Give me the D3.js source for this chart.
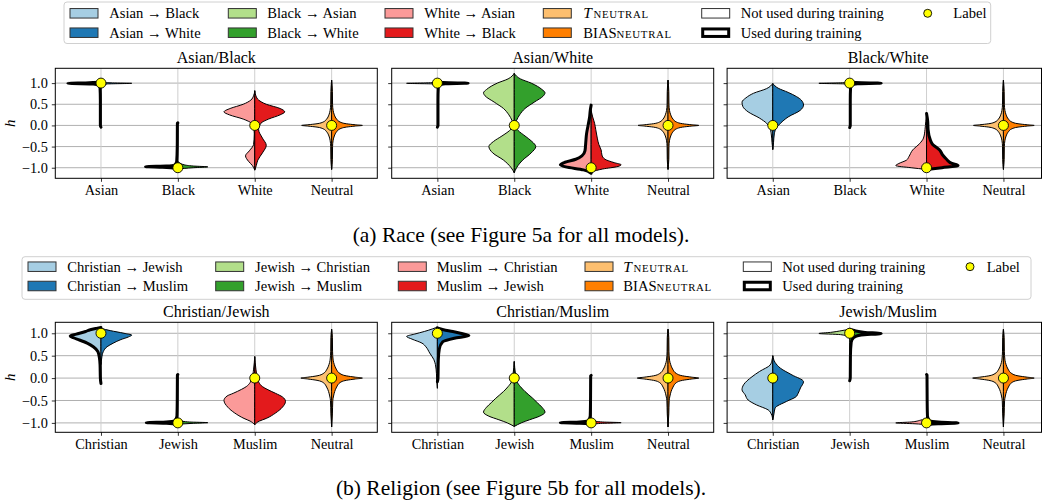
<!DOCTYPE html>
<html><head><meta charset="utf-8">
<script src="https://cdn.jsdelivr.net/npm/d3@7"></script>
<style>
body{margin:0;background:#fff;}
text{font-family:"Liberation Serif","DejaVu Serif",serif;fill:#000;}
</style></head>
<body><svg id="c" width="1042" height="502"></svg>
<script>
// ---------------- DATA ----------------
const raceCats = ["Asian","Black","White","Neutral"];
const religionCats = ["Christian","Jewish","Muslim","Neutral"];
const racePanels = ["Asian/Black","Asian/White","Black/White"];
const religionPanels = ["Christian/Jewish","Christian/Muslim","Jewish/Muslim"];
const yTicks = [-1.0,-0.5,0.0,0.5,1.0];
const raceLegend = [["Asian \u2192 Black","Asian \u2192 White"],["Black \u2192 Asian","Black \u2192 White"],["White \u2192 Asian","White \u2192 Black"]];
const religionLegend = [["Christian \u2192 Jewish","Christian \u2192 Muslim"],["Jewish \u2192 Christian","Jewish \u2192 Muslim"],["Muslim \u2192 Christian","Muslim \u2192 Jewish"]];
const leftColors = ["#a6cee3","#b2df8a","#fb9a99","#fdbf6f"];
const rightColors = ["#1f78b4","#33a02c","#e31a1c","#ff7f00"];
// label value per category, per panel
const raceLabels = [[1,-1,0,0],[1,0,-1,0],[0,1,-1,0]];
const religionLabels = [[1,-1,0,0],[1,0,-1,0],[0,1,-1,0]];
// used during training: [left,right] per category
const raceUsed = [[[1,0],[1,0],[0,0],[0,0]],[[0,1],[0,0],[1,0],[0,0]],[[0,0],[0,1],[0,1],[0,0]]];
const religionUsed = [[[1,0],[1,0],[0,0],[0,0]],[[0,1],[0,0],[1,0],[0,0]],[[0,0],[0,1],[0,1],[0,0]]];

// half-violin profiles: [h, half-width in category units]
const neutralRaceL = [[-1.04,0],[-0.8,0.01],[-0.5,0.012],[-0.35,0.02],[-0.25,0.035],[-0.15,0.065],[-0.08,0.11],[-0.04,0.19],[-0.015,0.31],[0,0.39],[0.015,0.31],[0.04,0.19],[0.08,0.11],[0.15,0.065],[0.25,0.035],[0.35,0.02],[0.5,0.012],[0.8,0.01],[1.07,0]];
const neutralRaceR = [[-1.04,0],[-0.8,0.01],[-0.5,0.012],[-0.35,0.02],[-0.25,0.035],[-0.15,0.065],[-0.08,0.11],[-0.04,0.19],[-0.015,0.31],[0,0.40],[0.015,0.31],[0.04,0.19],[0.08,0.11],[0.15,0.065],[0.25,0.035],[0.35,0.02],[0.5,0.012],[0.8,0.01],[1.07,0]];
const neutralRelL = [[-1.09,0],[-0.8,0.01],[-0.5,0.015],[-0.4,0.025],[-0.3,0.04],[-0.2,0.065],[-0.1,0.11],[-0.05,0.19],[-0.02,0.31],[0,0.40],[0.02,0.31],[0.05,0.19],[0.1,0.11],[0.2,0.06],[0.3,0.035],[0.4,0.02],[0.6,0.012],[0.9,0.01],[1.09,0]];
const neutralRelR = [[-1.09,0],[-0.8,0.01],[-0.5,0.015],[-0.4,0.025],[-0.3,0.04],[-0.2,0.065],[-0.1,0.11],[-0.05,0.19],[-0.02,0.31],[0,0.40],[0.02,0.31],[0.05,0.19],[0.1,0.11],[0.2,0.06],[0.3,0.035],[0.4,0.02],[0.6,0.012],[0.9,0.01],[1.09,0]];

// Race panel 1: Asian/Black
const raceABLeft = [
  [[-0.04,0],[0,0.008],[0.6,0.008],[0.88,0.012],[0.95,0.03],[0.98,0.1],[0.995,0.43],[1.005,0.2],[1.02,0]],
  [[-1.02,0],[-0.99,0.2],[-0.975,0.42],[-0.96,0.15],[-0.93,0.04],[-0.85,0.015],[-0.5,0.008],[0.05,0.006],[0.06,0]],
  [[-1.05,0],[-0.95,0.03],[-0.85,0.08],[-0.72,0.12],[-0.6,0.07],[-0.45,0.015],[-0.2,0.006],[-0.05,0.01],[0.05,0.04],[0.15,0.15],[0.25,0.33],[0.32,0.40],[0.4,0.32],[0.5,0.15],[0.6,0.05],[0.7,0.015],[0.82,0]],
  neutralRaceL];
const raceABRight = [
  [[0.9,0],[0.95,0.02],[0.98,0.08],[0.995,0.4],[1.005,0.15],[1.02,0]],
  [[-1.03,0],[-1.0,0.2],[-0.98,0.39],[-0.96,0.2],[-0.93,0.08],[-0.88,0.02],[-0.85,0]],
  [[-1.06,0],[-0.95,0.02],[-0.82,0.04],[-0.65,0.1],[-0.47,0.15],[-0.3,0.1],[-0.1,0.05],[0.05,0.08],[0.15,0.18],[0.25,0.33],[0.32,0.39],[0.4,0.33],[0.5,0.15],[0.6,0.05],[0.7,0.015],[0.82,0]],
  neutralRaceR];
// Race panel 2: Asian/White
const raceAWLeft = [
  [[0.95,0],[0.98,0.05],[0.995,0.4],[1.005,0.15],[1.02,0]],
  [[-1.12,0],[-1.0,0.04],[-0.82,0.14],[-0.65,0.28],[-0.5,0.33],[-0.38,0.27],[-0.25,0.16],[-0.12,0.06],[0,0.01],[0.12,0.03],[0.25,0.07],[0.4,0.14],[0.55,0.26],[0.7,0.38],[0.77,0.40],[0.85,0.36],[1.0,0.22],[1.1,0.08],[1.23,0]],
  [[-1.13,0],[-1.05,0.1],[-0.98,0.33],[-0.93,0.40],[-0.87,0.34],[-0.8,0.2],[-0.72,0.12],[-0.6,0.08],[-0.4,0.07],[-0.2,0.06],[0,0.04],[0.2,0.02],[0.35,0.012],[0.48,0]],
  neutralRaceL];
const raceAWRight = [
  [[-0.04,0],[0,0.008],[0.6,0.008],[0.9,0.012],[0.96,0.03],[0.985,0.1],[0.998,0.4],[1.008,0.15],[1.02,0]],
  [[-1.12,0],[-1.0,0.03],[-0.82,0.11],[-0.65,0.22],[-0.5,0.28],[-0.38,0.23],[-0.25,0.14],[-0.12,0.05],[0,0.01],[0.12,0.03],[0.25,0.07],[0.4,0.14],[0.55,0.26],[0.7,0.38],[0.77,0.40],[0.85,0.36],[1.0,0.22],[1.1,0.08],[1.23,0]],
  [[-1.1,0],[-1.03,0.15],[-0.97,0.35],[-0.93,0.39],[-0.88,0.3],[-0.8,0.18],[-0.7,0.14],[-0.58,0.13],[-0.45,0.1],[-0.3,0.08],[-0.1,0.06],[0.05,0.045],[0.2,0.02],[0.35,0]],
  neutralRaceR];
// Race panel 3: Black/White
const raceBWLeft = [
  [[-0.57,0],[-0.4,0.01],[-0.2,0.02],[-0.05,0.04],[0.05,0.08],[0.17,0.17],[0.32,0.32],[0.45,0.39],[0.55,0.40],[0.65,0.35],[0.76,0.25],[0.87,0.08],[0.99,0]],
  [[0.96,0],[0.98,0.05],[0.995,0.40],[1.005,0.15],[1.02,0]],
  [[-1.04,0],[-1.0,0.2],[-0.95,0.40],[-0.9,0.36],[-0.82,0.26],[-0.74,0.23],[-0.58,0.18],[-0.43,0.09],[-0.3,0.04],[-0.1,0.02],[0.1,0.01],[0.28,0]],
  neutralRaceL];
const raceBWRight = [
  [[-0.57,0],[-0.4,0.01],[-0.2,0.02],[-0.05,0.05],[0.05,0.1],[0.2,0.2],[0.36,0.36],[0.48,0.40],[0.6,0.37],[0.68,0.31],[0.78,0.2],[0.88,0.07],[0.99,0]],
  [[-0.05,0],[0,0.008],[0.6,0.008],[0.9,0.012],[0.96,0.03],[0.985,0.1],[0.998,0.41],[1.008,0.15],[1.02,0]],
  [[-1.04,0],[-1.0,0.2],[-0.95,0.41],[-0.9,0.33],[-0.8,0.26],[-0.7,0.21],[-0.58,0.17],[-0.45,0.08],[-0.35,0.05],[-0.1,0.02],[0.1,0.015],[0.28,0]],
  neutralRaceR];
// Religion panel 1: Christian/Jewish
const relCJLeft = [
  [[-0.12,0],[0,0.008],[0.3,0.012],[0.45,0.02],[0.59,0.04],[0.7,0.1],[0.78,0.18],[0.85,0.28],[0.9,0.36],[0.94,0.40],[0.98,0.32],[1.04,0.2],[1.08,0.14],[1.11,0.06],[1.13,0]],
  [[-1.04,0],[-1.01,0.15],[-0.995,0.41],[-0.98,0.15],[-0.95,0.04],[-0.85,0.012],[-0.5,0.008],[0.07,0.006],[0.08,0]],
  [[-1.04,0],[-0.96,0.06],[-0.9,0.14],[-0.78,0.26],[-0.65,0.35],[-0.5,0.40],[-0.4,0.36],[-0.34,0.28],[-0.25,0.17],[-0.19,0.11],[-0.1,0.06],[0,0.035],[0.2,0.015],[0.48,0]],
  neutralRelL];
const relCJRight = [
  [[0.3,0],[0.45,0.01],[0.59,0.03],[0.7,0.08],[0.78,0.16],[0.86,0.26],[0.92,0.36],[0.96,0.40],[1.0,0.3],[1.06,0.12],[1.11,0]],
  [[-1.03,0],[-1.01,0.2],[-0.995,0.39],[-0.98,0.15],[-0.95,0.03],[-0.9,0]],
  [[-1.04,0],[-0.96,0.06],[-0.9,0.15],[-0.78,0.27],[-0.65,0.36],[-0.52,0.40],[-0.42,0.36],[-0.34,0.27],[-0.25,0.16],[-0.19,0.1],[-0.1,0.055],[0,0.035],[0.2,0.015],[0.48,0]],
  neutralRelR];
// Religion panel 2: Christian/Muslim
const relCMLeft = [
  [[-0.23,0],[-0.1,0.006],[0.1,0.012],[0.3,0.025],[0.41,0.045],[0.56,0.1],[0.7,0.15],[0.78,0.2],[0.87,0.33],[0.93,0.40],[0.98,0.3],[1.04,0.17],[1.1,0.06],[1.14,0]],
  [[-1.08,0],[-1.0,0.09],[-0.93,0.2],[-0.85,0.33],[-0.76,0.40],[-0.65,0.36],[-0.55,0.3],[-0.45,0.24],[-0.3,0.14],[-0.19,0.08],[-0.08,0.035],[0.1,0.015],[0.37,0]],
  [[-1.03,0],[-1.01,0.15],[-0.995,0.40],[-0.98,0.15],[-0.95,0.04],[-0.85,0.012],[-0.5,0.008],[0.05,0.006],[0.06,0]],
  neutralRelL];
const relCMRight = [
  [[-0.08,0],[0,0.008],[0.4,0.012],[0.65,0.025],[0.81,0.07],[0.89,0.22],[0.95,0.41],[1.0,0.3],[1.04,0.2],[1.08,0.08],[1.12,0]],
  [[-1.08,0],[-1.0,0.09],[-0.93,0.2],[-0.85,0.33],[-0.76,0.40],[-0.65,0.36],[-0.55,0.3],[-0.45,0.24],[-0.3,0.14],[-0.19,0.08],[-0.08,0.035],[0.1,0.015],[0.37,0]],
  [[-1.03,0],[-1.01,0.15],[-0.995,0.39],[-0.98,0.15],[-0.95,0.03],[-0.9,0]],
  neutralRelR];
// Religion panel 3: Jewish/Muslim
const relJMLeft = [
  [[-0.93,0],[-0.8,0.02],[-0.71,0.06],[-0.6,0.21],[-0.49,0.32],[-0.37,0.36],[-0.26,0.40],[-0.15,0.38],[0.03,0.27],[0.15,0.17],[0.29,0.035],[0.4,0.01],[0.5,0]],
  [[0.88,0],[0.93,0.03],[0.97,0.12],[0.995,0.40],[1.02,0.25],[1.06,0.1],[1.09,0]],
  [[-1.04,0],[-1.02,0.15],[-1.0,0.40],[-0.98,0.2],[-0.94,0.08],[-0.9,0]],
  neutralRelL];
const relJMRight = [
  [[-0.93,0],[-0.8,0.015],[-0.67,0.03],[-0.52,0.18],[-0.42,0.3],[-0.34,0.33],[-0.22,0.36],[-0.08,0.40],[0.07,0.25],[0.22,0.1],[0.35,0.03],[0.5,0]],
  [[-0.06,0],[0,0.008],[0.5,0.01],[0.8,0.02],[0.9,0.05],[0.96,0.15],[0.995,0.41],[1.02,0.2],[1.06,0.06],[1.09,0]],
  [[-1.04,0],[-1.02,0.15],[-1.0,0.41],[-0.98,0.15],[-0.95,0.04],[-0.85,0.012],[-0.5,0.008],[0.07,0.006],[0.08,0]],
  neutralRelR];

const raceLeftProfiles = [raceABLeft, raceAWLeft, raceBWLeft];
const raceRightProfiles = [raceABRight, raceAWRight, raceBWRight];
const relLeftProfiles = [relCJLeft, relCMLeft, relJMLeft];
const relRightProfiles = [relCJRight, relCMRight, relJMRight];

// ---------------- LAYOUT ----------------
const W = 1042;
const svg = d3.select("#c");
const panelLefts = [55.3, 391.7, 727.1];
const panelW = 322;
const xDomain = [-0.594, 3.594];
const THIN = 1, THICK = 3;
const FS = 14.3;

function drawPanel(opts){
  const {x0, ys, cats, title, leftP, rightP, used, labels, showY, top, bottom} = opts;
  const g = svg.append("g");
  const xs = d3.scaleLinear().domain(xDomain).range([x0, x0+panelW]);
  const xr = Math.min(x0+panelW, W-0.5);
  const dx = w => xs(w) - xs(0);
  // grid
  g.selectAll(".hg").data(yTicks).join("line")
    .attr("x1",x0).attr("x2",xr).attr("y1",d=>ys(d)).attr("y2",d=>ys(d))
    .attr("stroke","#b0b0b0").attr("stroke-width",1);
  g.selectAll(".vg").data(d3.range(cats.length)).join("line")
    .attr("x1",d=>xs(d)).attr("x2",d=>xs(d)).attr("y1",top).attr("y2",bottom)
    .attr("stroke","#cfcfcf").attr("stroke-width",1);
  // axes
  const xa = d3.axisBottom(xs).tickValues(d3.range(cats.length)).tickFormat(i=>cats[i]).tickSize(3.5).tickPadding(3);
  const xg = g.append("g").attr("transform",`translate(0,${bottom})`).call(xa);
  xg.select(".domain").remove();
  xg.selectAll("text").attr("font-size",FS).attr("font-family","Liberation Serif").attr("fill","#222");
  xg.selectAll("line").attr("stroke","#333");
  const ya = d3.axisLeft(ys).tickValues(yTicks).tickFormat(showY? d3.format(".1f") : "").tickSize(3.5).tickPadding(4);
  const yg = g.append("g").attr("transform",`translate(${x0},0)`).call(ya);
  yg.select(".domain").remove();
  yg.selectAll("text").attr("font-size",FS).attr("font-family","Liberation Serif").attr("fill","#222");
  yg.selectAll("line").attr("stroke","#333");
  // violins
  cats.forEach((c,i)=>{
    const cx = xs(i);
    [[leftP[i],leftColors[i],-1],[rightP[i],rightColors[i],1]].forEach(([prof,col,sign])=>{
      const area = d3.area().curve(d3.curveMonotoneY).y(d=>ys(d[0])).x0(cx).x1(d=>cx+sign*dx(d[1]));
      g.append("path").attr("d",area(prof)).attr("fill",col).attr("stroke","#000").attr("stroke-width",THIN).attr("stroke-linejoin","round");
    });
  });
  cats.forEach((c,i)=>{
    const cx = xs(i);
    [[leftP[i],used[i][0],-1],[rightP[i],used[i][1],1]].forEach(([prof,u,sign])=>{
      if(!u) return;
      const line = d3.line().curve(d3.curveMonotoneY).y(d=>ys(d[0])).x(d=>cx+sign*dx(d[1]));
      g.append("path").attr("d",line(prof)).attr("fill","none").attr("stroke","#000").attr("stroke-width",THICK).attr("stroke-linejoin","round").attr("stroke-linecap","round");
    });
  });
  // labels
  g.selectAll(".lab").data(labels).join("circle")
    .attr("cx",(d,i)=>xs(i)).attr("cy",d=>ys(d)).attr("r",5)
    .attr("fill","#ffff00").attr("stroke","#000").attr("stroke-width",0.9);
  // frame
  g.append("rect").attr("x",x0).attr("y",top).attr("width",xr-x0).attr("height",bottom-top)
    .attr("fill","none").attr("stroke","#000").attr("stroke-width",1);
  // title
  g.append("text").attr("x",x0+panelW/2).attr("y",top-5.5).attr("text-anchor","middle")
    .attr("font-size",16).text(title);
  if(showY){
    g.append("text").attr("transform",`translate(${x0-40},${(top+bottom)/2}) rotate(-90)`)
      .attr("text-anchor","middle").attr("font-size",15).attr("font-style","italic").text("h");
  }
}

function drawRow(rowTop, rowBottom, yDom, cats, titles, leftPs, rightPs, used, labels){
  const ys = d3.scaleLinear().domain(yDom).range([rowBottom,rowTop]);
  titles.forEach((t,k)=>{
    drawPanel({x0:panelLefts[k], ys, cats, title:t, leftP:leftPs[k], rightP:rightPs[k], used:used[k], labels:labels[k], showY:k===0, top:rowTop, bottom:rowBottom});
  });
}

drawRow(68.3, 178.3, [-1.25,1.35], raceCats, racePanels, raceLeftProfiles, raceRightProfiles, raceUsed, raceLabels);
drawRow(322.3, 432.3, [-1.21,1.245], religionCats, religionPanels, relLeftProfiles, relRightProfiles, religionUsed, religionLabels);

// ---------------- LEGENDS ----------------
function neutralText(sel, kind){
  if(kind==="T"){
    sel.append("tspan").attr("font-style","italic").attr("font-size",15.5).text("T");
    sel.append("tspan").attr("font-size",10.8).attr("letter-spacing",0.7).attr("dx",1.5).text("NEUTRAL");
  } else {
    sel.append("tspan").text("BIAS");
    sel.append("tspan").attr("font-size",10.8).attr("letter-spacing",0.7).text("NEUTRAL");
  }
}
function drawLegend(box, patchX, textX, rows, labelsText, circleX, labelX){
  const g = svg.append("g");
  g.append("rect").attr("x",box[0]).attr("y",box[1]).attr("width",box[2]-box[0]).attr("height",box[3]-box[1])
    .attr("rx",3).attr("fill","#fff").attr("stroke","#d0d0d0").attr("stroke-width",1);
  const pw=28, ph=9.5, lfs=14.6;
  for(let c=0;c<3;c++){
    for(let r=0;r<2;r++){
      const col = r===0? leftColors[c] : rightColors[c];
      g.append("rect").attr("x",patchX[c]).attr("y",rows[r]-ph/2).attr("width",pw).attr("height",ph)
        .attr("fill",col).attr("stroke","#333").attr("stroke-width",1);
      g.append("text").attr("x",textX[c]).attr("y",rows[r]).attr("dy","0.34em").attr("font-size",lfs).attr("fill","#222").text(labelsText[c][r]);
    }
  }
  for(let r=0;r<2;r++){
    g.append("rect").attr("x",patchX[3]).attr("y",rows[r]-ph/2).attr("width",pw).attr("height",ph)
      .attr("fill",r===0?leftColors[3]:rightColors[3]).attr("stroke","#333").attr("stroke-width",1);
    const t = g.append("text").attr("x",textX[3]).attr("y",rows[r]).attr("dy","0.34em").attr("font-size",lfs).attr("fill","#222");
    neutralText(t, r===0?"T":"B");
  }
  g.append("rect").attr("x",patchX[4]).attr("y",rows[0]-ph/2).attr("width",pw).attr("height",ph)
    .attr("fill","#fff").attr("stroke","#333").attr("stroke-width",1);
  g.append("rect").attr("x",patchX[4]+1).attr("y",rows[1]-ph/2+1).attr("width",pw-2).attr("height",ph-2)
    .attr("fill","#fff").attr("stroke","#000").attr("stroke-width",THICK);
  g.append("text").attr("x",textX[4]).attr("y",rows[0]).attr("dy","0.34em").attr("font-size",lfs).attr("fill","#222").text("Not used during training");
  g.append("text").attr("x",textX[4]).attr("y",rows[1]).attr("dy","0.34em").attr("font-size",lfs).attr("fill","#222").text("Used during training");
  g.append("circle").attr("cx",circleX).attr("cy",rows[0]).attr("r",4).attr("fill","#ffff00").attr("stroke","#000").attr("stroke-width",0.9);
  g.append("text").attr("x",labelX).attr("y",rows[0]).attr("dy","0.34em").attr("font-size",lfs).attr("fill","#222").text("Label");
}
drawLegend([64,2,990.7,43.5],[70,228.3,385,543.3,701.7],[109.3,267.3,424.3,583.3,740.7],[13.3,32.7],raceLegend,927.7,953.3);
drawLegend([22,256.7,1031,299.3],[28,215.7,398.3,585,743.3],[67.3,255,436.7,623.3,782.3],[266.7,286],religionLegend,970,986.7);

// captions
svg.append("text").attr("x",521).attr("y",242).attr("text-anchor","middle").attr("font-size",21.5).text("(a) Race (see Figure 5a for all models).");
svg.append("text").attr("x",521).attr("y",495).attr("text-anchor","middle").attr("font-size",21.5).text("(b) Religion (see Figure 5b for all models).");
</script></body></html>
